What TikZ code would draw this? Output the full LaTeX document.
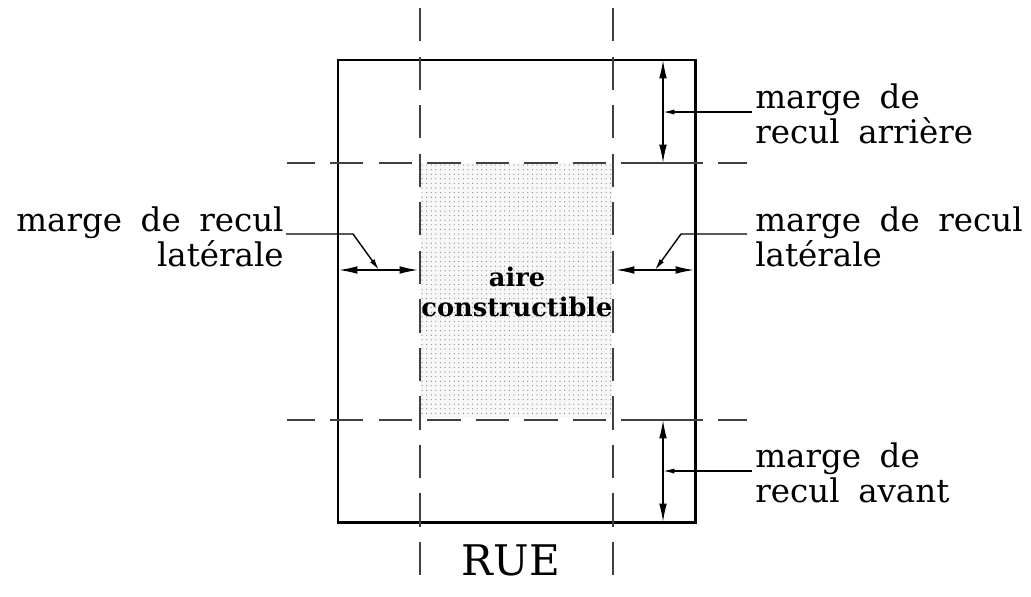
\documentclass[tikz,border=0pt]{standalone}
\usepackage{fontspec}
\setmainfont{DejaVu Serif}
\newfontfamily\margefont[WordSpace=1.8]{DejaVu Serif}
\usetikzlibrary{arrows.meta}

\tikzset{
    wall/.style={line width=1.7pt},
    axisline/.style={line width=1.1pt, color=black!75, dash pattern=on 19pt off 8.62pt},
    leader/.style={line width=0.8pt, -{Latex[length=6.5pt,width=3pt]}},
    cote/.style={line width=0.8pt, {Latex[length=10.5pt,width=4.4pt]}-{Latex[length=10.5pt,width=4.4pt]}},
    margetext/.style={font=\margefont\fontsize{18.5}{20}\selectfont, inner sep=0pt, inner xsep=1.7pt, align=left},
}

\begin{document}
\begin{tikzpicture}[x=0.02cm, y=-0.02cm]

    \useasboundingbox (0, 0) rectangle (1031, 596);

    % stippled area
    \fill[black!3] (421, 163) rectangle (612, 418);
    \foreach \i in {0,...,41} {
        \foreach \j in {0,...,54} {
            \fill[black!50] ({422 + 4.6*\i}, {165 + 4.6*\j}) circle (0.6);
        }
    }

    % lot
    \draw[wall] (338, 60) rectangle (695, 522);

    % setback lines
    \draw[axisline] (420, 8) -- (420, 575);
    \draw[axisline] (613, 8) -- (613, 575);
    \draw[axisline, dash phase=3.1pt] (287, 163) -- (747, 163);
    \draw[axisline, dash phase=3.1pt] (287, 420) -- (747, 420);
    \draw[axisline, solid] (622, 163) -- (703, 163);
    \draw[axisline, solid] (622, 420) -- (703, 420);

    \coordinate (backtop) at (663, 60);
    \coordinate (backbottom) at (663, 163);
    \coordinate (fronttop) at (663, 420);
    \coordinate (frontbottom) at (663, 522);
    \coordinate (lefta) at (339, 270);
    \coordinate (leftb) at (418, 270);
    \coordinate (righta) at (616, 270);
    \coordinate (rightb) at (694, 270);

    \draw[cote] (backtop) -- (backbottom);
    \draw[cote] (fronttop) -- (frontbottom);
    \draw[cote] (lefta) -- (leftb);
    \draw[cote] (righta) -- (rightb);

    \node[margetext, anchor=west] (arriere) at (752, 114) {marge de\\recul arrière};
    \node[margetext, anchor=west] (avant) at (752, 473) {marge de\\recul avant};
    \node[margetext, anchor=east, align=right] (gauche) at (287, 237) {marge de recul\\latérale};
    \node[margetext, anchor=west] (droite) at (752, 237) {marge de recul\\latérale};
    \node[font=\fontsize{14.6}{17}\selectfont\bfseries, align=center, inner sep=0pt] (aire) at (517, 292) {aire\\constructible};
    \node[font=\fontsize{24}{30}\selectfont, inner sep=0pt] (rue) at (511, 560) {RUE};

    \coordinate (arrieretip) at (663, 112);
    \coordinate (avanttip) at (663, 471);
    \coordinate (gauchestart) at (286, 234);
    \coordinate (gauchebend) at (353, 234);
    \coordinate (gauchetip) at (379, 270);
    \coordinate (droitestart) at (747, 234);
    \coordinate (droitebend) at (681, 234);
    \coordinate (droitetip) at (655, 270);

    \draw[leader] (arriere.west |- arrieretip) -- (arrieretip);
    \draw[leader] (avant.west |- avanttip) -- (avanttip);
    \draw[leader] (gauchestart) -- (gauchebend) -- (gauchetip);
    \draw[leader] (droitestart) -- (droitebend) -- (droitetip);

\end{tikzpicture}
\end{document}
